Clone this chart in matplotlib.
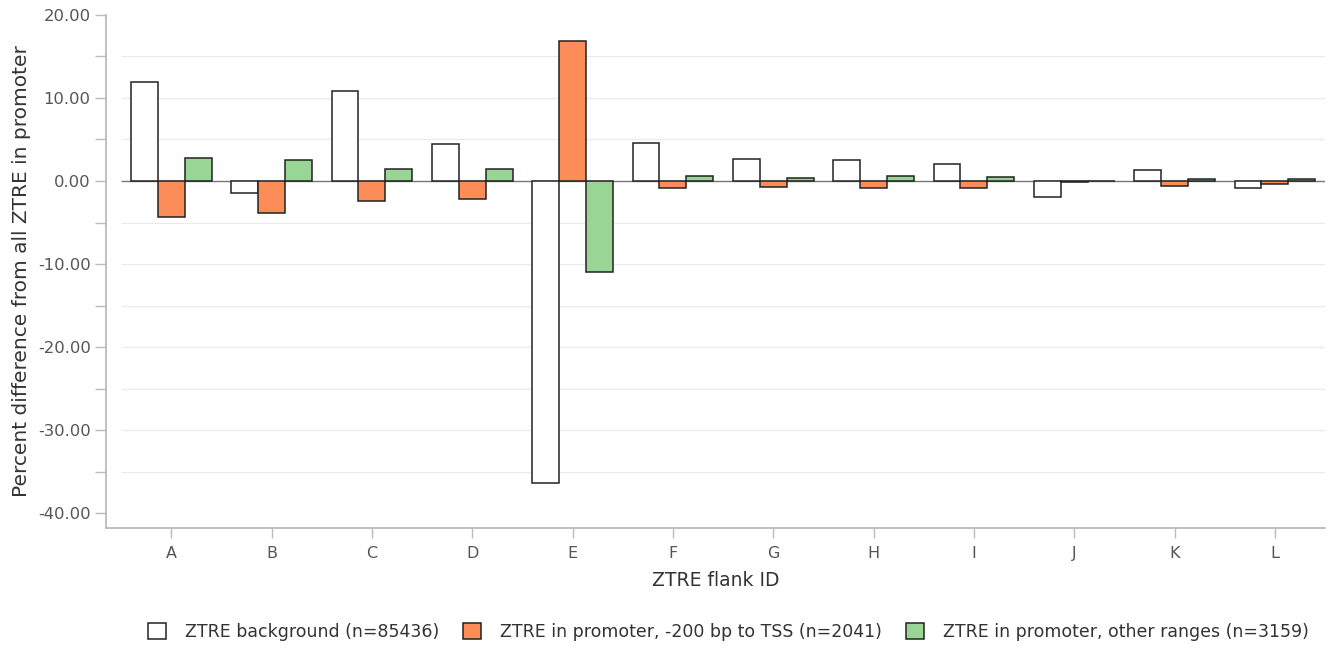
import matplotlib
matplotlib.use("Agg")
import matplotlib.pyplot as plt
import numpy as np
from matplotlib.patches import Patch

plt.rcParams["font.family"] = ["DejaVu Sans"]

categories = ["A", "B", "C", "D", "E", "F", "G", "H", "I", "J", "K", "L"]
background = [11.9, -1.4, 10.85, 4.4, -36.4, 4.6, 2.7, 2.5, 2.0, -1.95, 1.3, -0.9]
promoter_200 = [-4.3, -3.8, -2.4, -2.2, 16.9, -0.87, -0.7, -0.9, -0.8, -0.18, -0.6, -0.35]
promoter_other = [2.8, 2.5, 1.5, 1.4, -10.95, 0.6, 0.42, 0.6, 0.47, 0.05, 0.3, 0.22]
series_names = ["ZTRE background (n=85436)",
                "ZTRE in promoter, -200 bp to TSS (n=2041)",
                "ZTRE in promoter, other ranges (n=3159)"]
colors = ["#ffffff", "#fc8d59", "#99d594"]

fig = plt.figure(figsize=(13.33, 6.48), dpi=100)
ax = fig.add_axes([0.0795, 0.185, 0.9145, 0.792])

x = np.arange(len(categories))
w = 0.268
grid_vals = [15, 10, 5, -5, -10, -15, -20, -25, -30, -35]
ax.hlines(grid_vals, -0.5, len(categories) - 0.5, colors="#ebebeb", linewidth=1.0, zorder=0)
ax.hlines([0], -0.5, len(categories) - 0.5, colors="#777777", linewidth=1.0, zorder=1)

for i, (vals, c) in enumerate(zip([background, promoter_200, promoter_other], colors)):
    ax.bar(x + (i - 1) * w, vals, width=w, color=c, edgecolor="#222222",
           linewidth=1.1, zorder=2)

ax.set_xlim(-0.65, len(categories) - 0.5)
ax.set_ylim(-41.8, 20)
ax.set_yticks(np.arange(-40, 21, 10))
ax.set_yticklabels([f"{v:.2f}" for v in np.arange(-40, 21, 10)])
ax.set_yticks(np.arange(-35, 20, 10), minor=True)
ax.set_xticks(x)
ax.set_xticklabels(categories)

for s in ["top", "right"]:
    ax.spines[s].set_visible(False)
for s in ["left", "bottom"]:
    ax.spines[s].set_color("#bbbbbb")
    ax.spines[s].set_linewidth(1.3)

ax.tick_params(axis="y", which="both", length=8, color="#bbbbbb", width=1.0,
               labelsize=11.8, labelcolor="#555555", pad=3)
ax.tick_params(axis="x", length=7, color="#bbbbbb", width=1.0,
               labelsize=11.5, labelcolor="#555555", pad=6)

ax.set_ylabel("Percent difference from all ZTRE in promoter", fontsize=14.5,
              color="#333333", labelpad=5)
ax.set_xlabel("ZTRE flank ID", fontsize=13.5, color="#333333", labelpad=7)

handles = [Patch(facecolor=c, edgecolor="#222222", linewidth=1.1) for c in colors]
leg = fig.legend(handles, series_names, loc="center", bbox_to_anchor=(0.5465, 0.025),
                 ncol=3, frameon=False, handlelength=1.06, handleheight=1.06,
                 handletextpad=1.1, columnspacing=1.35,
                 prop={"family": ["DejaVu Sans"], "size": 12.5})
for t in leg.get_texts():
    t.set_color("#333333")

fig.savefig("out.png", dpi=100)
